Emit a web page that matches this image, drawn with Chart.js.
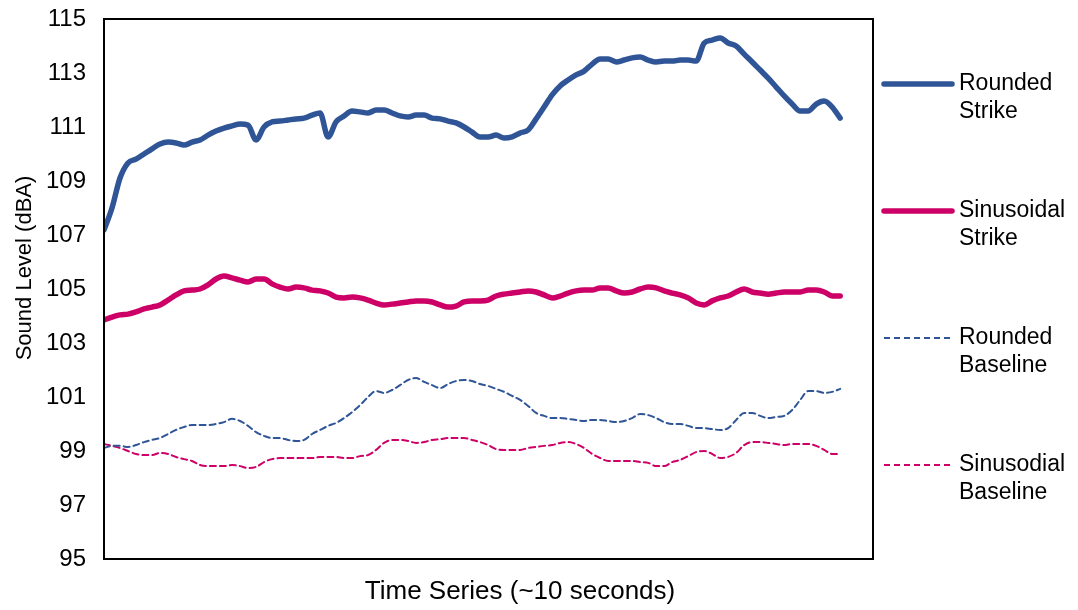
<!DOCTYPE html>
<html>
<head>
<meta charset="utf-8">
<script src="https://cdn.jsdelivr.net/npm/chart.js@4.4.1/dist/chart.umd.min.js"></script>
<style>
  html, body { margin: 0; padding: 0; background: #ffffff; }
  #wrap { width: 1078px; height: 610px; }
</style>
</head>
<body>
<div id="wrap"><canvas id="c" width="1078" height="610"></canvas></div>
<script>
const seriesNames = ["Rounded Strike", "Sinusoidal Strike", "Rounded Baseline", "Sinusodial Baseline"];
const legendLines = [["Rounded", "Strike"], ["Sinusoidal", "Strike"], ["Rounded", "Baseline"], ["Sinusodial", "Baseline"]];
const yTicks = [95, 97, 99, 101, 103, 105, 107, 109, 111, 113, 115];
const xTitle = "Time Series (~10 seconds)";
const yTitle = "Sound Level (dBA)";

const roundedStrike = [107.19,108.00,109.11,109.67,109.81,110.00,110.19,110.37,110.44,110.41,
110.33,110.44,110.52,110.70,110.85,110.96,111.04,111.11,111.07,110.52,
111.00,111.19,111.22,111.26,111.30,111.33,111.44,111.52,110.63,111.19,
111.41,111.59,111.56,111.52,111.63,111.63,111.52,111.41,111.37,111.44,
111.44,111.33,111.30,111.22,111.15,111.00,110.81,110.63,110.63,110.70,
110.59,110.63,110.78,110.89,111.30,111.74,112.19,112.52,112.74,112.93,
113.07,113.33,113.52,113.52,113.41,113.48,113.56,113.59,113.48,113.41,
113.44,113.44,113.48,113.48,113.44,114.11,114.22,114.30,114.11,114.00,
113.70,113.41,113.11,112.81,112.48,112.15,111.85,111.59,111.59,111.85,
111.96,111.74,111.33];

const sinusoidalStrike = [103.85,103.96,104.04,104.07,104.15,104.26,104.33,104.41,104.59,104.78,
104.93,104.96,105.00,105.15,105.37,105.48,105.41,105.33,105.26,105.37,
105.37,105.19,105.07,105.00,105.07,105.04,104.96,104.93,104.85,104.70,
104.67,104.70,104.67,104.59,104.48,104.41,104.44,104.48,104.52,104.56,
104.56,104.52,104.41,104.33,104.37,104.52,104.56,104.56,104.59,104.74,
104.81,104.85,104.89,104.93,104.89,104.78,104.67,104.74,104.85,104.93,
104.96,104.96,105.04,105.04,104.93,104.85,104.89,105.00,105.07,105.04,
104.93,104.85,104.78,104.67,104.48,104.41,104.56,104.67,104.74,104.89,
105.00,104.89,104.85,104.81,104.85,104.89,104.89,104.89,104.96,104.96,
104.89,104.74,104.74];

const roundedBaseline = [99.11,99.19,99.19,99.15,99.22,99.33,99.41,99.48,99.63,99.78,
99.89,99.96,99.96,99.96,100.00,100.07,100.19,100.11,99.93,99.70,
99.56,99.48,99.48,99.41,99.37,99.41,99.63,99.78,99.93,100.04,
100.22,100.44,100.70,101.00,101.22,101.15,101.26,101.44,101.63,101.70,
101.56,101.44,101.33,101.48,101.59,101.63,101.59,101.48,101.41,101.30,
101.19,101.04,100.89,100.67,100.41,100.30,100.22,100.22,100.19,100.15,
100.11,100.15,100.15,100.11,100.07,100.11,100.22,100.37,100.33,100.22,
100.07,100.00,100.00,99.93,99.85,99.85,99.81,99.78,99.85,100.15,
100.41,100.41,100.30,100.22,100.26,100.30,100.52,100.89,101.22,101.22,
101.15,101.19,101.30];

const sinusoidalBaseline = [99.26,99.19,99.11,99.00,98.89,98.85,98.85,98.93,98.89,98.78,
98.70,98.63,98.48,98.44,98.44,98.44,98.48,98.44,98.37,98.41,
98.59,98.70,98.74,98.74,98.74,98.74,98.74,98.78,98.78,98.78,
98.74,98.74,98.81,98.85,99.04,99.30,99.41,99.41,99.37,99.30,
99.33,99.41,99.44,99.48,99.48,99.48,99.41,99.33,99.22,99.07,
99.04,99.04,99.04,99.11,99.15,99.19,99.22,99.30,99.33,99.26,
99.11,98.89,98.74,98.63,98.63,98.63,98.63,98.59,98.56,98.44,
98.44,98.59,98.67,98.81,98.96,99.00,98.89,98.74,98.78,98.93,
99.22,99.33,99.33,99.30,99.26,99.22,99.26,99.26,99.26,99.19,
99.04,98.89,98.89];

const BLUE = "#2F5597";
const MAGENTA = "#CC0066";
const FONT = "'Liberation Sans', Arial, sans-serif";

function toPoints(arr) { return arr.map((v, i) => ({ x: i, y: v })); }

const datasets = [
  { label: seriesNames[0], data: toPoints(roundedStrike), borderColor: BLUE, borderWidth: 5.5, borderDash: [] },
  { label: seriesNames[1], data: toPoints(sinusoidalStrike), borderColor: MAGENTA, borderWidth: 5.5, borderDash: [] },
  { label: seriesNames[2], data: toPoints(roundedBaseline), borderColor: BLUE, borderWidth: 2, borderDash: [6, 4] },
  { label: seriesNames[3], data: toPoints(sinusoidalBaseline), borderColor: MAGENTA, borderWidth: 2, borderDash: [6, 4] }
].map(d => Object.assign(d, {
  pointRadius: 0, pointHoverRadius: 0, fill: false,
  cubicInterpolationMode: 'monotone', borderCapStyle: 'round', borderJoinStyle: 'round'
}));

const framePlugin = {
  id: 'frame',
  afterDatasetsDraw(chart) {
    const { ctx, chartArea: a } = chart;
    ctx.save();
    ctx.strokeStyle = '#000';
    ctx.lineWidth = 2;
    ctx.strokeRect(a.left, a.top, a.right - a.left, a.bottom - a.top);
    ctx.restore();
  }
};

const titlesPlugin = {
  id: 'titles',
  afterDraw(chart) {
    const { ctx, chartArea: a } = chart;
    ctx.save();
    ctx.fillStyle = '#000';
    ctx.textAlign = 'center';
    ctx.textBaseline = 'middle';
    ctx.font = "26px " + FONT;
    ctx.fillText(xTitle, chart.width / 2 - 19, a.bottom + 33);
    ctx.translate(25, (a.top + a.bottom) / 2 - 21);
    ctx.rotate(-Math.PI / 2);
    ctx.font = "22px " + FONT;
    ctx.fillText(yTitle, 0, 0);
    ctx.restore();
  }
};

const legendPlugin = {
  id: 'sideLegend',
  afterDraw(chart) {
    const { ctx, chartArea: a } = chart;
    ctx.save();
    const x0 = a.right + 11, x1 = a.right + 79, tx = a.right + 86;
    const firstY = 84, gap = 127, lineH = 27.5;
    chart.data.datasets.forEach((ds, i) => {
      const y = firstY + gap * i;
      ctx.beginPath();
      ctx.strokeStyle = ds.borderColor;
      ctx.lineWidth = ds.borderWidth;
      ctx.lineCap = ds.borderDash.length ? 'butt' : 'round';
      ctx.setLineDash(ds.borderDash);
      ctx.moveTo(x0, y);
      ctx.lineTo(x1, y);
      ctx.stroke();
      ctx.setLineDash([]);
      ctx.fillStyle = '#000';
      ctx.font = "23px " + FONT;
      ctx.textBaseline = 'middle';
      ctx.textAlign = 'left';
      legendLines[i].forEach((t, j) => ctx.fillText(t, tx, y + j * lineH));
    });
    ctx.restore();
  }
};

new Chart(document.getElementById('c'), {
  type: 'line',
  data: { datasets },
  options: {
    responsive: false,
    animation: false,
    events: [],
    layout: { padding: { top: 19, right: 205, left: 0, bottom: 0 } },
    plugins: { legend: { display: false }, tooltip: { enabled: false } },
    scales: {
      x: {
        type: 'linear', min: 0, max: 96.1,
        grid: { display: false, drawTicks: false },
        border: { display: false },
        ticks: { display: false },
        afterFit(s) { s.height = 51; }
      },
      y: {
        type: 'linear', min: 95, max: 115,
        afterBuildTicks(s) { s.ticks = yTicks.map(v => ({ value: v })); },
        grid: { display: false, drawTicks: false },
        border: { display: false },
        ticks: { color: '#000', font: { family: FONT, size: 24 }, padding: 18 },
        afterFit(s) { s.width = 104; s.paddingTop = 0; s.paddingBottom = 0; }
      }
    }
  },
  plugins: [framePlugin, titlesPlugin, legendPlugin]
});
</script>
</body>
</html>
